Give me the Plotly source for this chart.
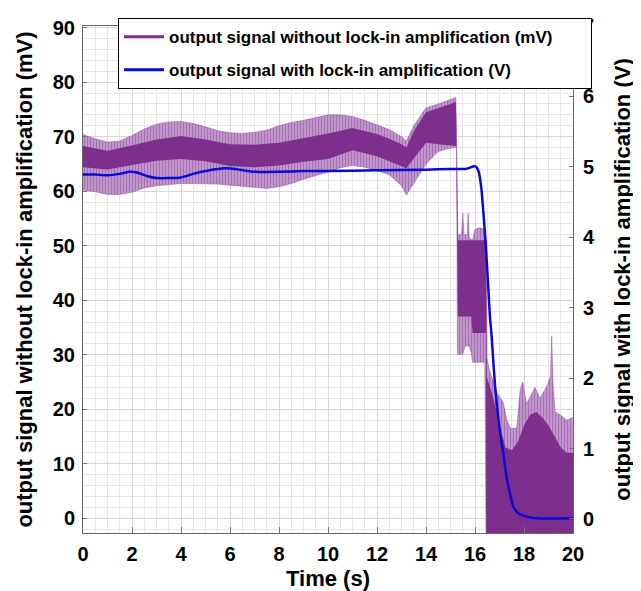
import plotly.graph_objects as go

# ---- data ----
# purple signal (mV): outer (spike) envelope and dense core envelope
outer_hi_t = [0, 0.5, 1, 1.5, 2, 2.5, 3, 3.5, 4, 4.5, 5, 5.5, 6, 6.5, 7, 7.5, 8, 8.5, 9, 9.5,
              10, 10.5, 11, 11.5, 12, 12.5, 13, 13.2, 13.5, 14, 14.5, 15, 15.22, 15.25, 15.3,
              15.45, 15.5, 15.55, 15.68, 15.72, 15.76, 15.9, 16.0, 16.2, 16.4, 16.46, 16.48,
              16.6, 16.75, 16.9, 17.15, 17.3, 17.45, 17.7, 17.85, 17.95, 18.1, 18.45, 18.65,
              18.95, 19.08, 19.13, 19.18, 19.27, 19.47, 19.74, 20]
outer_hi_v = [70.4, 69.6, 69.0, 69.2, 70.2, 71.4, 72.3, 72.7, 72.8, 72.4, 71.8, 71.1, 70.7, 70.6,
              70.8, 71.2, 72.0, 72.6, 73.0, 73.5, 74.0, 74.0, 73.7, 73.0, 72.2, 71.3, 70.0, 69.2,
              72.0, 75.3, 76.0, 76.8, 77.2, 68.5, 52, 52, 56, 52, 52, 56, 51.5, 51, 53, 53.3, 53,
              50, 29.5, 27, 25, 23, 21.3, 18, 16.5, 16.5, 23.7, 25, 21, 24, 22, 24.4,
              26, 33.4, 25, 19.5, 19.0, 18, 18.5]

outer_lo_t = [0, 0.5, 1, 1.5, 2, 2.5, 3, 3.5, 4, 4.5, 5, 5.5, 6, 6.5, 7, 7.5, 8, 8.5, 9, 9.5,
              10, 10.5, 11, 11.5, 12, 12.5, 13, 13.2, 13.5, 14, 14.5, 15, 15.25, 15.28, 15.5,
              15.6, 15.75, 15.85, 15.9, 16.4, 16.45, 20]
outer_lo_v = [60.2, 59.9, 59.4, 59.4, 59.8, 60.6, 61.0, 61.2, 61.4, 61.4, 61.4, 61.3, 61.1, 60.9,
              60.6, 60.5, 60.8, 61.4, 62.2, 62.8, 63.5, 64.3, 64.7, 64.4, 63.8, 63.0, 61.0, 59.3,
              61.5, 65.0, 67.3, 67.9, 68.0, 30.1, 30.1, 31.6, 31.6, 30.4, 28.6, 28.6, -3, -3]

core_hi_t = [0, 1, 2, 3, 4, 5, 6, 7, 8, 9, 10, 11, 12, 12.5, 13, 13.2, 13.5, 14, 14.5, 15,
             15.22, 15.24, 15.3, 16.4, 16.45, 16.48, 16.75, 17, 17.25, 17.5, 17.75, 18, 18.25,
             18.5, 18.75, 19, 19.25, 19.5, 19.75, 20]
core_hi_v = [68.3, 67.4, 68.4, 69.5, 70.1, 69.5, 68.6, 68.5, 68.9, 69.7, 70.6, 71.6, 70.5, 69.6,
             68.6, 68.0, 71.0, 74.5, 75.2, 76.0, 76.4, 70, 51, 51, 48, 26, 22, 17, 13, 12.5, 14,
             17, 19, 19.5, 18.5, 17, 15, 13, 12, 12]

core_lo_t = [0, 1, 2, 3, 4, 5, 6, 7, 8, 9, 10, 11, 12, 12.5, 13, 13.2, 13.5, 14, 14.5, 15,
             15.24, 15.3, 15.85, 15.9, 16.44, 16.46, 20]
core_lo_v = [64.4, 64.0, 64.8, 65.6, 65.9, 65.5, 64.6, 64.4, 64.7, 65.4, 65.9, 67.5, 66.4, 65.5,
             64.6, 64.2, 66.0, 68.9, 68.6, 68.4, 68.3, 37, 37, 34, 34, -3, -3]

# blue signal (V)
blue_t = [0, 0.5, 1, 1.5, 1.9, 2.2, 2.6, 3.0, 3.5, 4.0, 4.5, 5.0, 5.5, 5.85, 6.4, 7.0, 8.0, 9,
          10, 12, 14, 15, 15.6, 15.8, 15.95, 16.05, 16.15, 16.22, 16.28, 16.34, 16.41, 16.48,
          16.55, 16.61, 16.68, 16.75, 16.82, 16.88, 17.02, 17.16, 17.29, 17.43, 17.57, 17.77,
          18.1, 18.5, 20]
blue_v = [4.89, 4.89, 4.88, 4.90, 4.93, 4.92, 4.87, 4.84, 4.84, 4.85, 4.90, 4.94, 4.97, 4.98,
          4.96, 4.93, 4.93, 4.94, 4.94, 4.95, 4.96, 4.97, 4.97, 4.99, 5.01, 5.0, 4.93, 4.80,
          4.62, 4.36, 4.04, 3.66, 3.24, 2.87, 2.59, 2.22, 1.89, 1.66, 1.24, 0.92, 0.59, 0.36,
          0.17, 0.08, 0.03, 0.01, 0.01]

x_ticks = [0, 2, 4, 6, 8, 10, 12, 14, 16, 18, 20]
y_ticks = [0, 10, 20, 30, 40, 50, 60, 70, 80, 90]
y2_ticks = [0, 1, 2, 3, 4, 5, 6, 7]

name_purple = "output signal without lock-in amplification (mV)"
name_blue = "output signal with lock-in amplification (V)"

PURPLE = "#7d2f8d"
BLUE = "#0a0ad2"
FONT = "Liberation Sans, Arial, sans-serif"

fig = go.Figure()

# outer spike band
fig.add_trace(go.Scatter(x=outer_lo_t, y=outer_lo_v, mode="lines",
                         line=dict(width=0.6, color="rgba(140,75,155,0.8)"),
                         showlegend=False, hoverinfo="skip"))
fig.add_trace(go.Scatter(x=outer_hi_t, y=outer_hi_v, mode="lines", fill="tonexty",
                         line=dict(width=0.6, color="rgba(140,75,155,0.8)"),
                         fillpattern=dict(shape="|", size=3, solidity=0.6,
                                          fgcolor="#7e3290", bgcolor="rgba(206,172,216,0.95)"),
                         showlegend=False, hoverinfo="skip"))
# dense core band
fig.add_trace(go.Scatter(x=core_lo_t, y=core_lo_v, mode="lines",
                         line=dict(width=0, color=PURPLE),
                         showlegend=False, hoverinfo="skip"))
fig.add_trace(go.Scatter(x=core_hi_t, y=core_hi_v, mode="lines", fill="tonexty",
                         fillcolor=PURPLE, line=dict(width=0, color=PURPLE),
                         showlegend=False, hoverinfo="skip"))
# blue line
fig.add_trace(go.Scatter(x=blue_t, y=blue_v, mode="lines", yaxis="y2",
                         line=dict(width=2.5, color=BLUE, shape="spline", smoothing=0.6),
                         showlegend=False, hoverinfo="skip"))

# legend entries
NB = "\u00a0" * 7
fig.add_trace(go.Scatter(x=[None], y=[None], mode="lines", name=name_purple + NB,
                         line=dict(width=3, color=PURPLE), legendgroup="a"))
fig.add_trace(go.Scatter(x=[None], y=[None], mode="lines", name=name_blue,
                         line=dict(width=3, color=BLUE), legendgroup="b"))

tickf = dict(family=FONT, size=20, color="black", weight="bold")
titlef = dict(family=FONT, size=22, color="black", weight="bold")

# page body has an 8px margin: figure is offset by 8px right and down
fig.update_layout(
    width=633, height=583,
    margin=dict(l=75, r=68, t=10, b=58),
    paper_bgcolor="white", plot_bgcolor="white",
    font=dict(family=FONT, color="black"),
    xaxis=dict(range=[0, 20], tickvals=x_ticks, ticks="inside", ticklen=6, tickcolor="#777",
               tickfont=tickf, ticklabelstandoff=3, automargin=False,
               showgrid=True, gridcolor="#d6d6d6", gridwidth=1,
               minor=dict(dtick=0.5, showgrid=True, gridcolor="#e6e6e6", gridwidth=1),
               showline=True, linecolor="#666", linewidth=1, mirror=True, zeroline=False,
               title=dict(text="Time (s)", font=titlef, standoff=6)),
    yaxis=dict(range=[-2.7, 90.3], tickvals=y_ticks, ticks="inside", ticklen=4, tickcolor="#777",
               tickfont=tickf, ticklabelstandoff=3, automargin=False,
               showgrid=True, gridcolor="#d6d6d6", gridwidth=1,
               minor=dict(dtick=2, showgrid=True, gridcolor="#e6e6e6", gridwidth=1),
               showline=True, linecolor="#666", linewidth=1, zeroline=False,
               title=dict(text=name_purple, font=titlef, standoff=14)),
    yaxis2=dict(range=[-0.2, 7.0], tickvals=y2_ticks, ticks="inside", ticklen=4, tickcolor="#777",
                overlaying="y", side="right", tickfont=tickf, ticklabelstandoff=5,
                automargin=False,
                showgrid=False, zeroline=False, showline=True, linecolor="#666", linewidth=1,
                title=dict(text=name_blue, font=titlef, standoff=20)),
    legend=dict(x=(118 - 83) / 490, y=1 + 8 / 515, xanchor="left", yanchor="top",
                bgcolor="white", bordercolor="black", borderwidth=1, itemwidth=40,
                font=dict(family=FONT, size=17, color="black", weight="bold"),
                tracegroupgap=8, traceorder="grouped"),
    showlegend=True,
)

fig.write_html("out.html")
